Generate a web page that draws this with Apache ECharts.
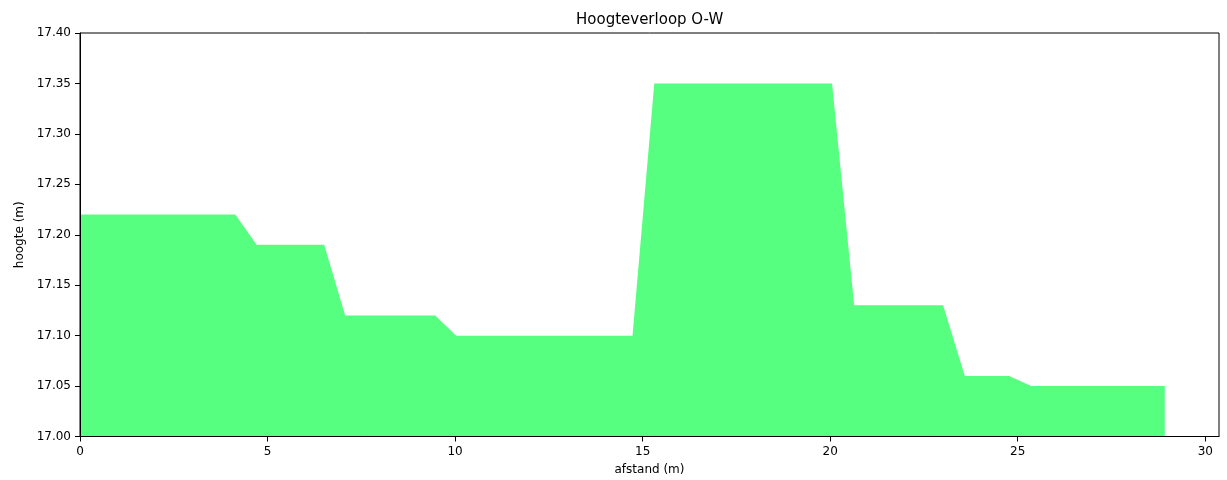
<!DOCTYPE html>
<html>
<head>
<meta charset="utf-8">
<script src="https://cdn.jsdelivr.net/npm/echarts@6/dist/echarts.min.js"></script>
<style>html,body{margin:0;padding:0;background:#fff}#c{width:1227px;height:480px}</style>
</head>
<body>
<div id="c"></div>
<script>
const afstand = [0, 4.14, 4.71, 6.51, 7.07, 9.47, 10.03, 14.73, 15.31, 20.05, 20.64, 23.01, 23.59, 24.77, 25.36, 28.92];
const hoogte  = [17.22, 17.22, 17.19, 17.19, 17.12, 17.12, 17.10, 17.10, 17.35, 17.35, 17.13, 17.13, 17.06, 17.06, 17.05, 17.05];
const xTicks = [0, 5, 10, 15, 20, 25, 30];
const yTicks = ['17.00','17.05','17.10','17.15','17.20','17.25','17.30','17.35','17.40'];

const font = 'DejaVu Sans';
const xMax = afstand[afstand.length - 1] * 1.05;
const chart = echarts.init(document.getElementById('c'), null, {renderer: 'canvas'});
chart.setOption({
  animation: false,
  backgroundColor: '#fff',
  title: {
    text: 'Hoogteverloop O-W', left: 576, top: 13, padding: 0,
    textStyle: {fontFamily: font, fontSize: 15, fontWeight: 'normal', color: '#000'}
  },
  grid: {left: 80, right: 8, top: 33, bottom: 43.5, outerBoundsMode: 'none', containLabel: false,
    show: true, borderColor: '#000', borderWidth: 1, backgroundColor: 'transparent', z: 5},
  xAxis: {
    type: 'value', min: 0, max: xMax, interval: 5, z: 6,
    name: 'afstand (m)', nameLocation: 'middle', nameGap: 27,
    nameTextStyle: {fontFamily: font, fontSize: 12, color: '#000'},
    axisLine: {show: true, onZero: false, lineStyle: {color: '#000', width: 1}},
    axisTick: {show: true, length: 5, customValues: xTicks, lineStyle: {color: '#000'}},
    axisLabel: {fontFamily: font, fontSize: 12, color: '#000', margin: 9, customValues: xTicks,
      formatter: v => String(Math.round(v))},
    splitLine: {show: false}
  },
  yAxis: {
    type: 'value', min: 17.0, max: 17.4, interval: 0.05, z: 6,
    name: 'hoogte (m)', nameLocation: 'middle', nameGap: 52, nameRotate: 90,
    nameTextStyle: {fontFamily: font, fontSize: 12, color: '#000'},
    axisLine: {show: true, onZero: false, lineStyle: {color: '#000', width: 1}},
    axisTick: {show: true, length: 5, lineStyle: {color: '#000'}},
    axisLabel: {fontFamily: font, fontSize: 12, color: '#000', margin: 9,
      formatter: v => yTicks[Math.round((v - 17.0) / 0.05)] || ''},
    splitLine: {show: false}
  },
  series: [{
    type: 'line',
    data: afstand.map((x, i) => [x, hoogte[i]]),
    showSymbol: false,
    lineStyle: {width: 0},
    areaStyle: {color: '#57ff80', opacity: 1, origin: 'start'},
    z: 1
  }]
});
</script>
</body>
</html>
